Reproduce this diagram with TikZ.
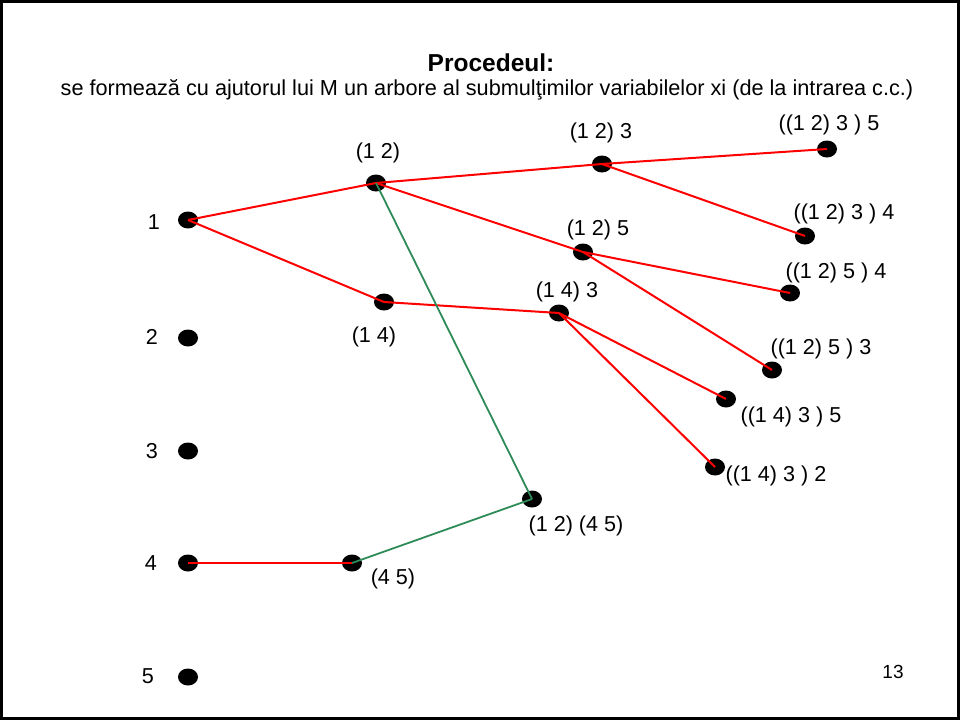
\documentclass[tikz,border=0pt]{standalone}
\usepackage{fontspec}
\setmainfont{Liberation Sans}
\usetikzlibrary{shapes.geometric}
\begin{document}
\begin{tikzpicture}[x=1pt,y=-1pt,
  dot/.style={ellipse,fill=black,minimum width=20pt,minimum height=17pt,inner sep=0pt},
  lbl/.style={font=\fontsize{21.6}{25}\selectfont,inner sep=0pt,anchor=center},
  redline/.style={draw={rgb,255:red,255;green,0;blue,0},line width=2pt},
  greenline/.style={draw={rgb,255:red,46;green,139;blue,87},line width=1.8pt}]
\useasboundingbox (0,0) rectangle (960,720);
\draw[line width=2.5pt] (1.25,1.25) rectangle (958.5,718.5);
% title
\node[font=\bfseries\fontsize{24.5}{28}\selectfont,inner sep=0pt] (title) at (491,63) {Procedeul:};
\node[font=\fontsize{21.7}{25}\selectfont,inner sep=0pt] (sub) at (487,90) {se formează cu ajutorul lui M un arbore al submulţimilor variabilelor xi (de la intrarea c.c.)};
% dots
\node[dot] (n1) at (188,220) {};
\node[dot] (n2) at (188,338) {};
\node[dot] (n3) at (188,451) {};
\node[dot] (n4) at (188,563) {};
\node[dot] (n5) at (188,677) {};
\node[dot] (a12) at (376,183) {};
\node[dot] (a14) at (384,302) {};
\node[dot] (a123) at (602,164) {};
\node[dot] (a125) at (583,252) {};
\node[dot] (a143) at (559,313) {};
\node[dot] (a1235) at (827,149) {};
\node[dot] (a1234) at (805,236) {};
\node[dot] (a1254) at (790,293) {};
\node[dot] (a1253) at (772,370) {};
\node[dot] (a1435) at (726,399) {};
\node[dot] (a1432) at (715,467) {};
\node[dot] (a1245) at (532,499) {};
\node[dot] (a45) at (352,563) {};
% edges
\draw[redline] (n1.center) -- (a12.center);
\draw[redline] (n1.center) -- (a14.center);
\draw[redline] (a12.center) -- (a123.center);
\draw[redline] (a12.center) -- (a125.center);
\draw[redline] (a123.center) -- (a1235.center);
\draw[redline] (a123.center) -- (a1234.center);
\draw[redline] (a125.center) -- (a1254.center);
\draw[redline] (a125.center) -- (a1253.center);
\draw[redline] (a14.center) -- (a143.center);
\draw[redline] (a143.center) -- (a1435.center);
\draw[redline] (a143.center) -- (a1432.center);
\draw[redline] (n4.center) -- (a45.center);
\draw[greenline] (a12.center) -- (a1245.center);
\draw[greenline] (a45.center) -- (a1245.center);
% labels
\node[lbl] (l1) at (154,222) {1};
\node[lbl] (l2) at (152,337) {2};
\node[lbl] (l3) at (152,451) {3};
\node[lbl] (l4) at (151,563) {4};
\node[lbl] (l5) at (148,676) {5};
\node[lbl] (t12) at (378,153) {(1 2)};
\node[lbl] (t14) at (374,337) {(1 4)};
\node[lbl] (t123) at (601,133) {(1 2) 3};
\node[lbl] (t1235) at (829,125) {((1 2) 3 ) 5};
\node[lbl] (t1234) at (844,214) {((1 2) 3 ) 4};
\node[lbl] (t125) at (598,230) {(1 2) 5};
\node[lbl] (t1254) at (836,273) {((1 2) 5 ) 4};
\node[lbl] (t143) at (567,292) {(1 4) 3};
\node[lbl] (t1253) at (821,349) {((1 2) 5 ) 3};
\node[lbl] (t1435) at (791,417) {((1 4) 3 ) 5};
\node[lbl] (t1432) at (776,476) {((1 4) 3 ) 2};
\node[lbl] (t1245) at (576,526) {(1 2) (4 5)};
\node[lbl] (t45) at (393,579) {(4 5)};
\node[lbl,font=\fontsize{19}{22}\selectfont] (pg) at (893,672) {13};
\end{tikzpicture}
\end{document}
